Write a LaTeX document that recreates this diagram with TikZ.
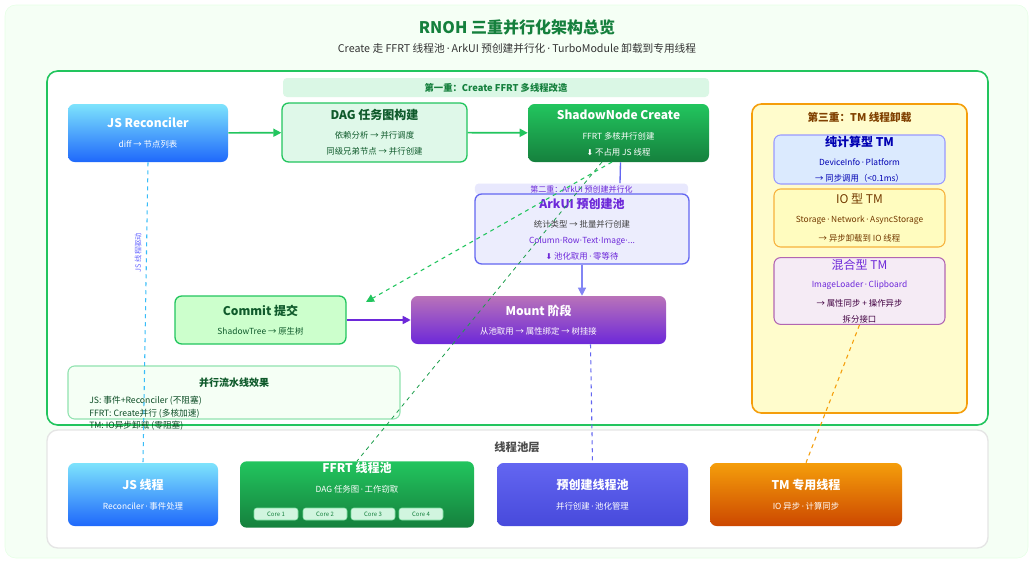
\documentclass[tikz,border=0pt]{standalone}
\usepackage{fontspec}
\setmainfont{Noto Sans CJK SC}
\newfontfamily\symfont{DejaVu Sans}
\usetikzlibrary{arrows.meta}
\definecolor{dgreen}{HTML}{15803D}
\definecolor{mgreen}{HTML}{22C55E}
\definecolor{lgreen}{HTML}{D1F5DF}
\definecolor{sblue}{HTML}{38BDF8}
\definecolor{vpurple}{HTML}{6D28D9}
\definecolor{ipurple}{HTML}{6366F1}
\definecolor{orng}{HTML}{F59E0B}
\definecolor{paleblue}{HTML}{DBEAFE}
\newcommand{\ttl}{\fontsize{9}{11}\selectfont\bfseries}
\newcommand{\sub}{\fontsize{6.3}{8.5}\selectfont}
\newcommand{\dn}{{\symfont\fontsize{6}{8}\selectfont ⬇}}
\newcommand{\dt}{\,{\symfont·}\,}
\tikzstyle{box} = [rectangle, rounded corners=5pt, align=center, inner sep=1pt]
\tikzstyle{solidwhite} = [box, text=white, draw=none]
\tikzstyle{bluegrad} = [solidwhite, top color=sblue!70!cyan!60, bottom color=blue!45!sblue]
\tikzstyle{greengrad} = [solidwhite, top color=mgreen, bottom color=dgreen]
\tikzstyle{lightgreen} = [box, fill=lgreen!70, draw=mgreen, line width=1pt, text=dgreen!70!black]
\tikzstyle{band} = [rectangle, rounded corners=3pt, minimum width=319.5pt, minimum height=14.25pt]
\tikzstyle{arrow} = [line width=1.2pt, -{Triangle[length=6pt,width=6pt]}]
\tikzstyle{link} = [dashed, line width=0.8pt]
\tikzstyle{core} = [rectangle, rounded corners=2pt, fill=lgreen, draw=mgreen!60, text=dgreen, font=\fontsize{4.5}{5}\selectfont, minimum width=33pt, minimum height=9pt, inner sep=0pt]

\begin{document}
\begin{tikzpicture}[x=0.75pt, y=-0.75pt]
    \useasboundingbox (0,0) rectangle (1033,564);
    % Background and frames
    \node (bg) [rectangle, rounded corners=8pt, fill=green!4, draw=green!10, minimum width=767.25pt, minimum height=414.75pt] at (516.5,281.5) {};
    \node (title) [text=dgreen, font=\fontsize{12}{14}\selectfont\bfseries] at (517,27) {RNOH 三重并行化架构总览};
    \node (subtitle) [text=black!80, font=\fontsize{8}{10}\selectfont] at (517,48) {Create 走 FFRT 线程池\dt ArkUI 预创建并行化\dt TurboModule 卸载到专用线程};
    \node (mainframe) [rectangle, rounded corners=8pt, fill=white, draw=mgreen, line width=1.2pt, minimum width=705.75pt, minimum height=265.5pt] at (517.5,248) {};
    \node (poolframe) [rectangle, rounded corners=8pt, fill=white, draw=black!10, line width=1pt, minimum width=705.75pt, minimum height=88.5pt] at (517.5,489) {};

    % First layer
    \node (band1) [band, fill=lgreen!80] at (496,87.5) {\fontsize{7}{9}\selectfont\bfseries\color{dgreen}第一重：Create FFRT 多线程改造};
    \node (js) [bluegrad, minimum width=120pt, minimum height=43.5pt] at (148,133) {\ttl JS Reconciler\\[3pt]\sub diff → 节点列表};
    \node (dag) [lightgreen, minimum width=138.75pt, minimum height=44.25pt] at (374.5,132.5) {\ttl DAG 任务图构建\\[2pt]\sub 依赖分析 → 并行调度\\\sub 同级兄弟节点 → 并行创建};
    \node (shadow) [greengrad, minimum width=135.75pt, minimum height=43.5pt] at (618.5,133) {\ttl ShadowNode Create\\[3pt]\sub FFRT 多核并行创建\\\sub\dn\ 不占用 JS 线程};

    % Second layer
    \node (band2) [band, fill=ipurple!15, minimum width=160pt, minimum height=8.25pt, inner sep=0pt] at (581.5,189) {\fontsize{6}{7}\selectfont\color{vpurple}第二重：ArkUI 预创建并行化};
    \node (ark) [box, fill=ipurple!12, draw=ipurple, line width=1pt, text=vpurple, minimum width=160.5pt, minimum height=52.5pt] at (582,229) {\ttl ArkUI 预创建池\\[2pt]\sub\color{black!75} 统计类型 → 批量并行创建\\\sub Column{\symfont·}Row{\symfont·}Text{\symfont·}Image{\symfont·}...\\\sub\dn\ 池化取用\dt 零等待};
    \node (commit) [lightgreen, fill=green!20, minimum width=128.25pt, minimum height=36pt] at (260.5,320) {\ttl Commit 提交\\[2pt]\sub ShadowTree → 原生树};
    \node (mount) [solidwhite, top color=violet!55!white, bottom color=vpurple, minimum width=191.25pt, minimum height=36pt] at (538.5,320) {\ttl Mount 阶段\\[2pt]\sub 从池取用 → 属性绑定 → 树挂接};
    \node (pipe) [box, fill=green!4, draw=mgreen!50, line width=0.8pt, minimum width=249pt, minimum height=39.75pt] at (234,392.5) {};
    \node (pipetitle) [text=dgreen!70!black, font=\fontsize{7.5}{9}\selectfont\bfseries] at (234,383) {并行流水线效果};
    \node (pipetext) [anchor=north west, align=left, inner sep=0pt, text=dgreen!60!black, font=\fontsize{6.5}{9.3}\selectfont] at (89,396) {JS: 事件+Reconciler (不阻塞)\\FFRT: Create并行 (多核加速)\\TM: IO异步卸载 (零阻塞)};

    % Third layer
    \node (tmpanel) [box, rounded corners=7pt, fill=yellow!20, draw=orng, line width=1.2pt, minimum width=161.25pt, minimum height=231.75pt] at (859.5,258.5) {};
    \node (tmtitle) [text=orange!50!black, font=\fontsize{8}{10}\selectfont\bfseries] at (859.5,117) {第三重：TM 线程卸载};
    \node (pure) [box, fill=paleblue, draw=blue!40, line width=0.8pt, text=blue!70!black, minimum width=128.25pt, minimum height=36.75pt] at (859.5,159.5) {\ttl 纯计算型 TM\\[2pt]\sub DeviceInfo\dt Platform\\\sub → 同步调用（<0.1ms）};
    \node (io) [box, fill=yellow!25, draw=orng!80, line width=0.8pt, text=orange!45!black, minimum width=128.25pt, minimum height=43.5pt] at (859.5,218) {\ttl\mdseries IO 型 TM\\[2pt]\sub Storage\dt Network\dt AsyncStorage\\[2pt]\sub → 异步卸载到 IO 线程};
    \node (mix) [box, fill=violet!8, draw=violet!60, line width=0.8pt, text=vpurple, minimum width=128.25pt, minimum height=48pt] at (859.5,291) {\ttl\mdseries 混合型 TM\\[2pt]\sub ImageLoader\dt Clipboard\\[2pt]\sub\color{violet!50!black} → 属性同步 + 操作异步\\\sub\color{violet!50!black} 拆分接口};

    % Thread pool layer
    \node (pooltitle) [text=black!70, font=\fontsize{8.5}{10}\selectfont\bfseries] at (517,447) {线程池层};
    \node (jst) [bluegrad, minimum width=112.5pt, minimum height=47.25pt] at (143,494.5) {\ttl JS 线程\\[3pt]\sub Reconciler\dt 事件处理};
    \node (ffrt) [greengrad, minimum width=175.5pt, minimum height=47.25pt] at (357,494.5) {\ttl FFRT 线程池\\[3pt]\sub DAG 任务图\dt 工作窃取\\[13pt]};
    \node (pre) [solidwhite, top color=ipurple, bottom color=ipurple!80!blue!90!black, minimum width=143.25pt, minimum height=47.25pt] at (592.5,494.5) {\ttl 预创建线程池\\[3pt]\sub 并行创建\dt 池化管理};
    \node (tmt) [solidwhite, top color=orng, bottom color=orange!70!red!80!black, minimum width=144pt, minimum height=47.25pt] at (806,494.5) {\ttl TM 专用线程\\[3pt]\sub IO 异步\dt 计算同步};
    \foreach \i/\cx in {1/276, 2/325, 3/373, 4/421}
        \node (core\i) [core] at (\cx,514) {Core \i};

    % Free ends
    \coordinate (commitin) at (366,302);
    \coordinate (shadowout) at (612,162);
    \coordinate (shadowlink) at (602,162);

    % Connectors
    \draw [arrow, mgreen] (js) -- (dag);
    \draw [arrow, mgreen] (dag) -- (shadow);
    \draw [line width=1pt, ipurple] (shadow.south) ++(2,0) -- (band2.north -| {(620,0)});
    \draw [arrow, ipurple!80, line width=0.8pt] (ark.south) -- (ark.south |- mount.north);
    \draw [arrow, vpurple] (commit) -- (mount);
    \draw [link, mgreen, -{Triangle[length=6pt,width=6pt]}] (shadowout) -- (commitin);
    \draw [link, mgreen!80!black, line width=0.6pt] (shadowlink) -- (ffrt.north);
    \draw [link, sblue] (js.south) -- (jst.north) node [pos=0.3, rotate=90, anchor=south, text=blue!60, font=\fontsize{5.5}{6}\selectfont] {JS 线程驱动};
    \draw [link, ipurple] (mount.south) ++(52,0) -- (pre.north);
    \draw [link, orng] (mix.south) -- (tmt.north);
\end{tikzpicture}
\end{document}
